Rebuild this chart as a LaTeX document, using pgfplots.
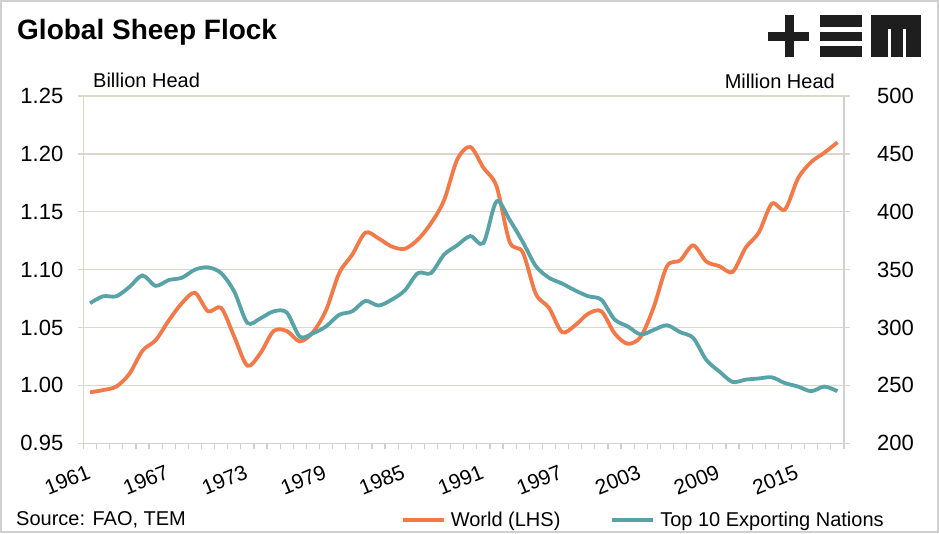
\documentclass[border=0pt]{standalone}
\usepackage{pgfplots}
\usepackage{pgfplotstable}
\pgfplotsset{compat=1.18}
\usepackage{fontspec}
\setmainfont{Liberation Sans}

\definecolor{worldc}{RGB}{244,121,72}
\definecolor{topc}{RGB}{88,163,168}
\definecolor{gridc}{RGB}{218,216,200}
\definecolor{axc}{RGB}{208,208,208}
\definecolor{logoc}{RGB}{30,30,30}

% World flock, billion head (LHS)
\pgfplotstableread{
year v
1961 0.994
1962 0.996
1963 0.999
1964 1.010
1965 1.030
1966 1.039
1967 1.056
1968 1.071
1969 1.080
1970 1.064
1971 1.067
1972 1.042
1973 1.017
1974 1.028
1975 1.047
1976 1.047
1977 1.038
1978 1.046
1979 1.065
1980 1.097
1981 1.113
1982 1.132
1983 1.127
1984 1.120
1985 1.118
1986 1.126
1987 1.140
1988 1.160
1989 1.195
1990 1.206
1991 1.188
1992 1.172
1993 1.124
1994 1.115
1995 1.079
1996 1.067
1997 1.046
1998 1.052
1999 1.062
2000 1.064
2001 1.045
2002 1.036
2003 1.042
2004 1.068
2005 1.103
2006 1.108
2007 1.121
2008 1.107
2009 1.103
2010 1.098
2011 1.119
2012 1.132
2013 1.157
2014 1.152
2015 1.179
2016 1.193
2017 1.201
2018 1.210
}\world

% top 10 exporters, million head (RHS)
\pgfplotstableread{
year v
1961 321
1962 327
1963 327
1964 335
1965 345
1966 336
1967 341
1968 343
1969 350
1970 352
1971 347
1972 331
1973 304
1974 308
1975 314
1976 313
1977 292
1978 295
1979 301
1980 311
1981 314
1982 323
1983 319
1984 324
1985 332
1986 347
1987 347
1988 363
1989 371
1990 379
1991 373
1992 409
1993 393
1994 374
1995 353
1996 343
1997 338
1998 332
1999 327
2000 324
2001 307
2002 301
2003 294
2004 298
2005 302
2006 296
2007 291
2008 272
2009 262
2010 253
2011 255
2012 256
2013 257
2014 252
2015 249
2016 245
2017 249
2018 245
}\topten

\begin{document}
\begin{tikzpicture}[x=1pt,y=1pt,font=\fontsize{20}{24}\selectfont]
\pgfplotsset{
  base/.style={
    scale only axis, width=760.5pt, height=347.3pt,
    at={(83.5pt,89.7pt)}, anchor=south west,
    xmin=1960.5, xmax=2018.5,
    yticklabel style={font=\fontsize{22}{26}\selectfont},
    xticklabel style={font=\fontsize{21}{25}\selectfont},
    /pgf/number format/assume math mode=true,
    major tick length=6pt, minor tick length=6pt,
    tick align=outside,
  },
}
\path[draw=axc, line width=2pt] (1,1) rectangle (938,532);

\begin{axis}[base,
    axis y line*=left, axis x line*=bottom,
    ymin=0.95, ymax=1.25, ytick={0.95,1.00,...,1.26},
    /pgf/number format/fixed,
    /pgf/number format/fixed zerofill,
    /pgf/number format/precision=2,
    /pgf/number format/1000 sep={},
    ymajorgrids, grid style={draw=gridc, line width=1.3pt},
    y axis line style={draw=gridc, line width=1.3pt},
    x axis line style={draw=axc, line width=1.3pt},
    ytick style={draw=gridc, line width=1.3pt},
    xtick={1961,1967,...,2015},
    xticklabels={1961,1967,1973,1979,1985,1991,1997,2003,2009,2015},
    xticklabel style={rotate=22, anchor=north east, inner sep=0pt, xshift=-9pt, yshift=-12pt},
    xtick style={draw=none},
    minor xtick={1960.5,1961.5,...,2018.5},
    minor x tick style={draw=axc, line width=1.3pt},
    yticklabel style={inner sep=0pt, xshift=-14pt},
  ]
  \addplot[worldc, line width=3.8pt, smooth, tension=0.5] table[x=year, y=v]{\world};
\end{axis}

\begin{axis}[base,
    axis y line*=right, axis x line=none,
    ymin=200, ymax=500, ytick={200,250,...,500},
    y axis line style={draw=axc, line width=1.3pt},
    ytick style={draw=gridc, line width=1.3pt},
    yticklabel style={inner sep=0pt, xshift=27pt},
    legend columns=2,
    legend image code/.code={\draw[#1] (0pt,0pt) -- (41pt,0pt);},
    legend style={draw=none, fill=none, inner sep=0pt, outer sep=0pt,
      at={(0.4175,-0.2208)}, anchor=west,
      font=\fontsize{20}{24}\selectfont,
      nodes={inner sep=0pt, anchor=west},
      /tikz/every odd column/.append style={column sep=5pt},
      /tikz/every even column/.append style={column sep=50pt}},
  ]
  \addlegendimage{worldc, line width=3.8pt}
  \addlegendentry{World (LHS)}
  \addplot[topc, line width=3.8pt, smooth, tension=0.5] table[x=year, y=v]{\topten};
  \addlegendentry{Top 10 Exporting Nations}
\end{axis}

% titles and notes
\node[anchor=base west, inner sep=0pt, font=\fontsize{28}{32}\selectfont\bfseries] at (17,493) {Global Sheep Flock};
\node[anchor=base west, inner sep=0pt] at (93,445.5) {Billion Head};
\node[anchor=base east, inner sep=0pt] at (835,444.5) {Million Head};
\node[anchor=base west, inner sep=0pt] at (16,8) {Source: FAO, TEM};

% logo
\fill[logoc] (768,492.3) rectangle (809,501.3);
\fill[logoc] (785,476) rectangle (794,518);
\fill[logoc] (820,506.3) rectangle (862,518);
\fill[logoc] (820,492.3) rectangle (862,501.3);
\fill[logoc] (820,475.7) rectangle (862,487);
\fill[logoc] (870.7,475.7) rectangle (920.7,518);
\fill[white] (888,475.7) rectangle (891,504);
\fill[white] (903,475.7) rectangle (906,504);
\end{tikzpicture}
\end{document}
